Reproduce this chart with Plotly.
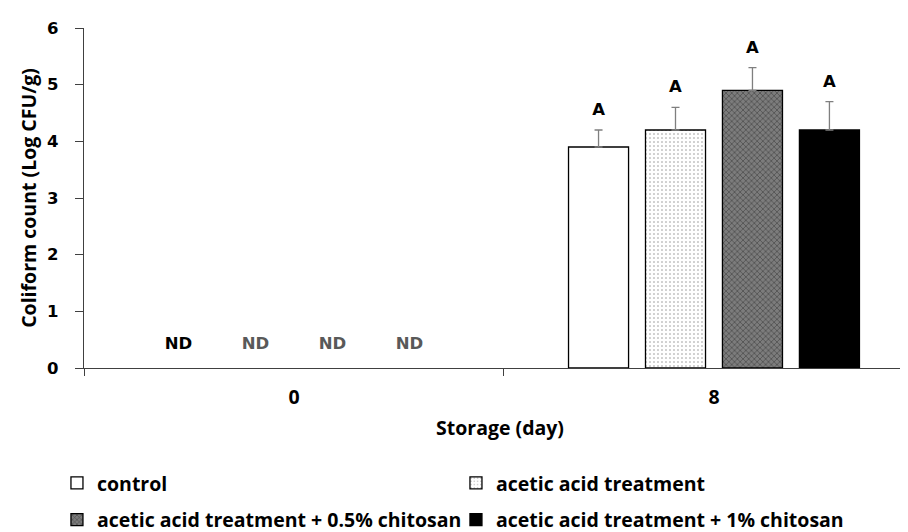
import plotly.graph_objects as go

days = ["0", "8"]
series = ["control", "acetic acid treatment",
          "acetic acid treatment + 0.5% chitosan", "acetic acid treatment + 1% chitosan"]
# None = not detected (ND)
values = [[None, 3.9], [None, 4.2], [None, 4.9], [None, 4.2]]
errors = [[0, 0.3], [0, 0.4], [0, 0.4], [0, 0.5]]
labels = [["ND", "A"], ["ND", "A"], ["ND", "A"], ["ND", "A"]]
y_ticks = [0, 1, 2, 3, 4, 5, 6]

fills = [
    dict(color="white", pattern=None),
    dict(color="white", pattern=dict(shape=".", fgcolor="#222222", bgcolor="white", size=4, solidity=0.12)),
    dict(color="#707070", pattern=dict(shape="x", fgcolor="#1e1e1e", bgcolor="#7c7c7c", size=4, solidity=0.35)),
    dict(color="black", pattern=None),
]
nd_colors = ["black", "#595959", "#595959", "#595959"]
legend_ids = ["legend", "legend", "legend2", "legend2"]

CAL = "Open Sans"
VER = "DejaVu Sans"
CAL_SIZE = 19.5

fig = go.Figure()
for i, name in enumerate(series):
    m = dict(color=fills[i]["color"], line=dict(color="black", width=1.3))
    if fills[i]["pattern"]:
        m["pattern"] = fills[i]["pattern"]
    fig.add_trace(go.Bar(
        x=days, y=values[i], name=name, offsetgroup=str(i), marker=m,
        legend=legend_ids[i],
        error_y=dict(type="data", array=errors[i], arrayminus=[0] * len(days),
                     symmetric=False, color="#7f7f7f", thickness=1.3, width=4),
    ))
for i, name in enumerate(series):
    tops = [(v if v is not None else 0) + e for v, e in zip(values[i], errors[i])]
    sizes = [22 if v is None else 16 for v in values[i]]
    fig.add_trace(go.Scatter(
        x=days, y=tops, text=labels[i], mode="markers+text", offsetgroup=str(i),
        marker=dict(size=sizes, opacity=0, color="white"),
        textposition="top center", showlegend=False, hoverinfo="skip",
        textfont=dict(family=VER, size=16.5, weight="bold",
                      color=[nd_colors[i], "black"]),
    ))

leg_common = dict(orientation="h", xanchor="left", yanchor="middle", x=-0.0325,
                  entrywidth=354, entrywidthmode="pixels", traceorder="normal",
                  font=dict(family=CAL, size=CAL_SIZE, weight="bold", color="black"),
                  itemwidth=30, tracegroupgap=0, bgcolor="rgba(0,0,0,0)")

fig.update_layout(
    width=908, height=532,
    margin=dict(l=76, r=0, t=20, b=167),
    plot_bgcolor="white", paper_bgcolor="white",
    barmode="group", scattermode="group", bargap=0.267, bargroupgap=0.22,
    font=dict(family=CAL, color="black"),
    showlegend=True,
    legend=dict(leg_common, y=-0.339),
    legend2=dict(leg_common, y=-0.447),
    xaxis=dict(type="category", range=[-0.5, 1.481], showline=True, linecolor="#404040",
               linewidth=1.3, ticks="outside", tickson="boundaries", ticklen=7,
               tickcolor="#404040", tickwidth=1.3, showgrid=False, automargin=False,
               ticklabelstandoff=11,
               tickfont=dict(family=CAL, size=CAL_SIZE, weight="bold"),
               title=dict(text="Storage (day)", font=dict(family=CAL, size=CAL_SIZE, weight="bold"),
                          standoff=12)),
    yaxis=dict(range=[0, 6], tickvals=y_ticks, showline=True, linecolor="#404040",
               linewidth=1.3, ticks="outside", ticklen=8, tickcolor="#404040", tickwidth=1.3,
               showgrid=False, zeroline=False, automargin=False, ticklabelstandoff=13,
               tickfont=dict(family=VER, size=16.5, weight="bold"),
               title=dict(text="Coliform count (Log CFU/g)",
                          font=dict(family=CAL, size=CAL_SIZE, weight="bold"), standoff=5)),
)
fig.write_html("out.html")
